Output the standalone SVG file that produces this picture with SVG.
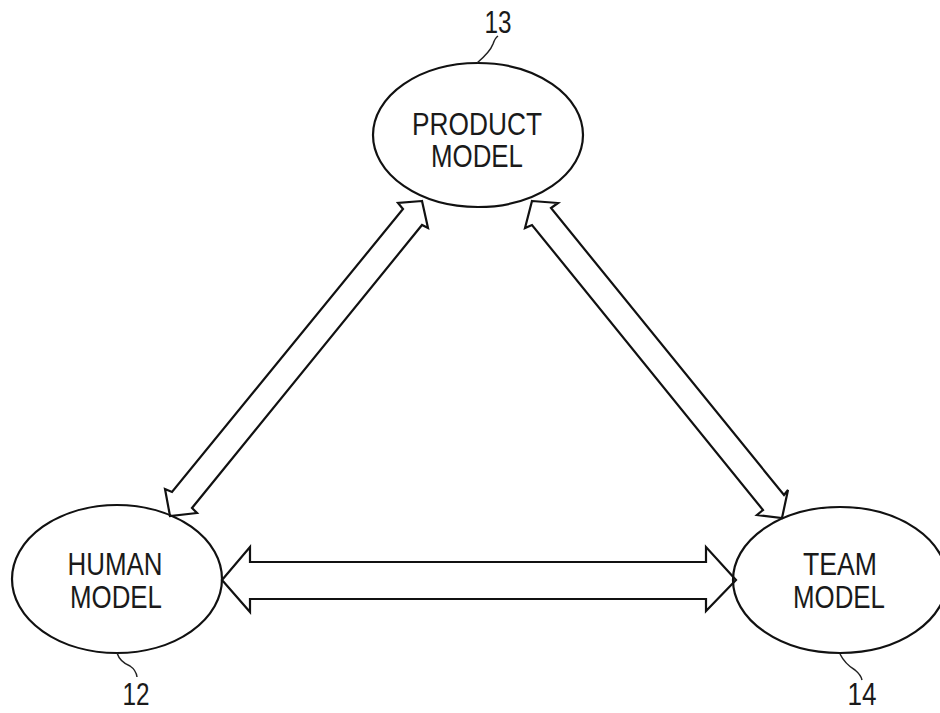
<svg xmlns="http://www.w3.org/2000/svg" width="940" height="713" viewBox="0 0 940 713">
<style>
.node{fill:none;stroke:#111;stroke-width:2.2}
.lbl{font-family:"Liberation Sans",Arial,sans-serif;font-size:31px;fill:#1a1a1a;text-anchor:middle}
.num{font-family:"Liberation Sans",Arial,sans-serif;font-size:31px;fill:#1a1a1a;text-anchor:middle}
.lead{fill:none;stroke:#222;stroke-width:1.5}
.arr{fill:none;stroke:#111;stroke-width:2.2;stroke-linejoin:miter}
</style>
<rect width="940" height="713" fill="#fff"/>
<g id="connectors">
<path class="arr" d="M222,580 L250,547 L250,562 L706,562 L706,547 L736,580 L706,611 L706,599 L250,599 L250,612 Z"/>
<path class="arr" d="M422,201 L398,203 L403,209 L172,492 L165,489 L170,516 L197,513 L192,508 L422,225 L428,228 Z"/>
<path class="arr" d="M532,201 L558,203 L551,208 L784,495 L788,490 L782,518 L757,515 L763,510 L532,225 L525,228 Z"/>
</g>
<g id="product">
<ellipse class="node" cx="478" cy="135" rx="105" ry="72"/>
<text class="lbl" x="477" y="135" textLength="130" lengthAdjust="spacingAndGlyphs">PRODUCT</text>
<text class="lbl" x="477" y="167" textLength="92" lengthAdjust="spacingAndGlyphs">MODEL</text>
<path class="lead" d="M477,63 Q490,52 493,44 Q495,38 498,36"/>
<text class="num" x="498" y="33" textLength="27" lengthAdjust="spacingAndGlyphs">13</text>
</g>
<g id="human">
<ellipse class="node" cx="117" cy="579" rx="105" ry="74"/>
<text class="lbl" x="115" y="575" textLength="95" lengthAdjust="spacingAndGlyphs">HUMAN</text>
<text class="lbl" x="116" y="608" textLength="92" lengthAdjust="spacingAndGlyphs">MODEL</text>
<path class="lead" d="M117,653 Q120,662 130,666 Q136,670 137,677"/>
<text class="num" x="136" y="705" textLength="27" lengthAdjust="spacingAndGlyphs">12</text>
</g>
<g id="team">
<ellipse class="node" cx="840" cy="580" rx="107" ry="73"/>
<text class="lbl" x="840" y="575" textLength="74" lengthAdjust="spacingAndGlyphs">TEAM</text>
<text class="lbl" x="839" y="608" textLength="92" lengthAdjust="spacingAndGlyphs">MODEL</text>
<path class="lead" d="M840,654 Q845,664 855,670 Q861,675 862,680"/>
<text class="num" x="862" y="705" textLength="29" lengthAdjust="spacingAndGlyphs">14</text>
</g>
</svg>
